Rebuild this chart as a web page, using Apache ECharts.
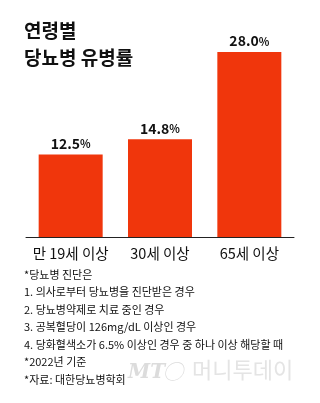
<!DOCTYPE html>
<html>
<head>
<meta charset="utf-8">
<script src="https://cdn.jsdelivr.net/npm/echarts@6/dist/echarts.min.js"></script>
<style>
  html, body { margin: 0; padding: 0; background: #fff; }
  #chart { width: 320px; height: 403px; }
</style>
</head>
<body>
<div id="chart"></div>
<script>
// Diabetes prevalence by age group (%)
const categories = ['만 19세 이상', '30세 이상', '65세 이상'];
const prevalence = [12.5, 14.8, 28.0];

const titleLines = ['연령별', '당뇨병 유병률'];
const notes = [
  '*당뇨병 진단은',
  '1. 의사로부터 당뇨병을 진단받은 경우',
  '2. 당뇨병약제로 치료 중인 경우',
  '3. 공복혈당이 126mg/dL 이상인 경우',
  '4. 당화혈색소가 6.5% 이상인 경우 중 하나 이상 해당할 때',
  '*2022년 기준',
  '*자료: 대한당뇨병학회'
];

const FONT = '"Noto Sans CJK KR", "Noto Sans", sans-serif';
const BAR = '#f0360c';

const chart = echarts.init(document.getElementById('chart'), null, { renderer: 'canvas' });

chart.setOption({
  backgroundColor: '#ffffff',
  animation: false,
  textStyle: { fontFamily: FONT },
  grid: { left: 26, right: 26, top: 52, bottom: 166 },
  xAxis: {
    type: 'category',
    data: categories,
    axisLine: { show: true, lineStyle: { color: '#222', width: 1 } },
    axisTick: { show: false },
    axisLabel: { interval: 0, color: '#111', fontSize: 14.5, margin: 9, fontFamily: FONT }
  },
  yAxis: {
    type: 'value',
    min: 0,
    max: 28,
    show: false,
    splitLine: { show: false }
  },
  series: [{
    type: 'bar',
    data: prevalence,
    barWidth: 64,
    itemStyle: { color: BAR },
    label: {
      show: true,
      position: 'top',
      distance: 4,
      formatter: p => '{v|' + p.value.toFixed(1) + '}{p|%}',
      rich: {
        v: { fontSize: 14, fontWeight: 'bold', color: '#111', fontFamily: FONT },
        p: { fontSize: 11, fontWeight: 'bold', color: '#111', fontFamily: FONT, padding: [1, 0, 0, 0] }
      }
    }
  }],
  graphic: [
    {
      type: 'text', left: 24, top: 17,
      style: { text: titleLines.join('\n'), fill: '#111', font: 'bold 19px ' + FONT, lineHeight: 27 }
    },
    {
      type: 'text', left: 24, top: 266,
      style: { text: notes.join('\n'), fill: '#111', font: '11px ' + FONT, lineHeight: 17.5 }
    },
    {
      type: 'text', left: 128, top: 363,
      style: { text: 'MT', fill: '#dcdcdc', font: 'italic bold 20px "DejaVu Serif", serif' }
    },
    {
      type: 'text', left: 163, top: 361,
      style: { text: '◯', fill: '#dcdcdc', font: 'italic 20px ' + FONT }
    },
    {
      type: 'text', left: 192, top: 359,
      style: { text: '머니투데이', fill: '#e4e4e4', font: '22px ' + FONT }
    }
  ]
});
</script>
</body>
</html>
